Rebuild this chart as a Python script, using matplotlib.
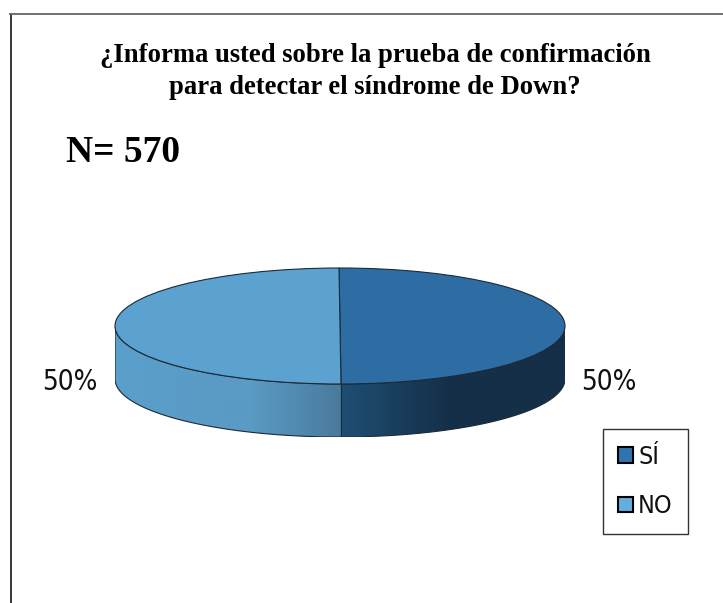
#!/usr/bin/python
import numpy as np
import matplotlib
matplotlib.use("Agg")
import matplotlib.pyplot as plt
from matplotlib.colors import to_rgb
from matplotlib.lines import Line2D
from matplotlib.patches import Patch, PathPatch
from matplotlib.path import Path

W, H = 723, 603

categories = ["SÍ", "NO"]
values = [50, 50]
title_lines = ["¿Informa usted sobre la prueba de confirmación",
               "para detectar el síndrome de Down?"]
sample_label = "N= 570"

top_colors = ["#2d6da3", "#5ba2d0"]
legend_colors = ["#2e75b0", "#62afde"]
wall_stops = [-1.0, -0.4, 0.0, 0.0001, 0.5, 1.0]
wall_colors = ["#5a9fcb", "#5a9ac4", "#4a7a9c", "#1f4e74", "#142f47", "#142f47"]
outline = "#1c2a36"
DEPTH = 53 / 58  # wall height in ellipse radii


def px_rect(left, top, right, bottom):
    return [left / W, 1 - bottom / H, (right - left) / W, (bottom - top) / H]


def draw_wall(ax, divider_x):
    # lower half of the ellipse pushed down by DEPTH
    t = np.linspace(np.pi, 2 * np.pi, 200)
    upper = np.column_stack([np.cos(t), np.sin(t)])
    lower = upper[::-1] - [0, DEPTH]
    outline_pts = np.vstack([upper, lower, upper[:1]])
    wall = Path(outline_pts)

    xs = np.linspace(-1, 1, 900)
    stops = np.array(wall_stops) + divider_x * (np.array(wall_stops) < 0.5)
    rgb = np.array([to_rgb(c) for c in wall_colors])
    grad = np.stack([np.interp(xs, stops, rgb[:, i]) for i in range(3)], axis=1)[None, :, :]
    img = ax.imshow(grad, extent=(-1, 1, -1 - DEPTH, 0), aspect="auto", zorder=1,
                    interpolation="bilinear")
    border = PathPatch(wall, facecolor="none", edgecolor=outline, lw=0.8, zorder=2)
    ax.add_patch(border)
    img.set_clip_path(border)
    y_top = -np.sqrt(1 - divider_x ** 2)
    ax.plot([divider_x, divider_x], [y_top, y_top - DEPTH], color=outline, lw=0.8, zorder=2)


def main():
    plt.rcParams["font.family"] = ["DejaVu Sans"]
    fig = plt.figure(figsize=(W / 100, H / 100), dpi=100, facecolor="white")

    # outer frame, runs off the right and bottom of the picture
    fig.add_artist(Line2D([10.5 / W, 10.5 / W], [0, 1 - 13.5 / H], color="black", lw=1.1))
    fig.add_artist(Line2D([10 / W, 1], [1 - 13.5 / H, 1 - 13.5 / H], color="#666666", lw=1.3))

    ax = fig.add_axes(px_rect(115, 268, 565, 437))
    wedges, _ = ax.pie(values, colors=top_colors, startangle=90.25, counterclock=False,
                       radius=1, wedgeprops={"edgecolor": outline, "linewidth": 0.8, "zorder": 3})
    ax.set_aspect("auto")
    ax.set_xlim(-1, 1)
    ax.set_ylim(-1 - DEPTH, 1)
    ax.axis("off")

    # wall seam sits where the wedge boundary meets the front of the ellipse
    divider_x = float(np.cos(np.deg2rad(wedges[0].theta1)))
    draw_wall(ax, divider_x)

    # percent labels, one per slice
    pct = [f"{v / sum(values) * 100:.0f}%" for v in values]
    label_kw = dict(fontsize=20, stretch="condensed", va="center", color="#111111")
    fig.text(581 / W, 1 - 381.5 / H, pct[0], ha="left", **label_kw)
    fig.text(97 / W, 1 - 381.5 / H, pct[1], ha="right", **label_kw)

    fig.text(375 / W, 1 - 55 / H, title_lines[0], family="Liberation Serif", weight="bold",
             fontsize=19.2, ha="center", va="center", color="black")
    fig.text(375 / W, 1 - 87 / H, title_lines[1], family="Liberation Serif", weight="bold",
             fontsize=19.2, ha="center", va="center", color="black")
    fig.text(66 / W, 1 - 162 / H, sample_label, family="Liberation Serif", weight="bold",
             fontsize=27, ha="left", va="baseline", color="black")

    handles = [Patch(facecolor=c, edgecolor="black", lw=1.5) for c in legend_colors]
    leg = fig.legend(handles, categories, loc="upper left",
                     bbox_to_anchor=(602.5 / W, 1 - 429 / H), bbox_transform=fig.transFigure,
                     fontsize=18, fancybox=False, framealpha=1, edgecolor="#333333",
                     handlelength=0.6, handleheight=0.6, handletextpad=0.2,
                     labelspacing=1.03, borderpad=0.62, borderaxespad=0)
    leg.get_frame().set_linewidth(1)
    for t in leg.get_texts():
        t.set_fontstretch("condensed")
        t.set_color("#111111")

    plt.savefig("out.png", dpi=100)


if __name__ == "__main__":
    main()
